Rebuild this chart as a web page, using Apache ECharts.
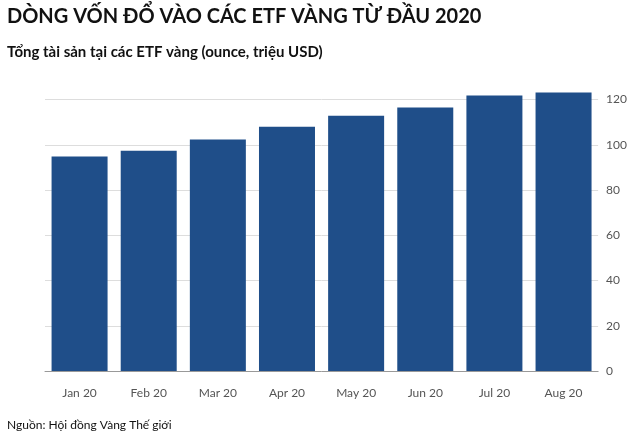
<!DOCTYPE html>
<html><head><meta charset="utf-8">
<script src="https://cdn.jsdelivr.net/npm/echarts@6/dist/echarts.min.js"></script>
<style>html,body{margin:0;padding:0;background:#fff}#c{width:630px;height:437px}</style>
</head><body><div id="c"></div>
<script>
const categories = ["Jan 20","Feb 20","Mar 20","Apr 20","May 20","Jun 20","Jul 20","Aug 20"];
const values = [94.8, 97.4, 102.3, 108.0, 112.9, 116.5, 121.8, 123.1];
const chart = echarts.init(document.getElementById('c'));
chart.setOption({
  animation:false,
  title:[
    {text:"DÒNG VỐN ĐỔ VÀO CÁC ETF VÀNG TỪ ĐẦU 2020",left:2,top:2,textStyle:{fontFamily:"Lato",fontWeight:"bold",fontSize:20,color:"#111"}},
    {text:"Tổng tài sản tại các ETF vàng (ounce, triệu USD)",left:2,top:40,textStyle:{fontFamily:"Lato",fontWeight:"bold",fontSize:15,color:"#111"}},
    {text:"Nguồn: Hội đồng Vàng Thế giới",left:2,top:414,textStyle:{fontFamily:"Lato",fontWeight:"normal",fontSize:12,color:"#111"}}
  ],
  grid:{left:45,right:27,top:86,bottom:66},
  xAxis:{type:'category',data:categories,axisLine:{show:true,lineStyle:{color:'#999'}},axisTick:{show:false},
    axisLabel:{color:'#555',fontFamily:'Lato',fontSize:12,margin:16}},
  yAxis:{type:'value',position:'right',min:0,max:126,interval:20,axisLine:{show:false},axisTick:{show:false},
    splitLine:{showMaxLine:false,lineStyle:{color:'#ddd'}},axisLabel:{showMaxLabel:false,color:'#555',fontFamily:'Lato',fontSize:12,margin:8}},
  series:[{type:'bar',data:values,barWidth:'81%',itemStyle:{color:'#1f4e89'}}]
});
</script></body></html>
